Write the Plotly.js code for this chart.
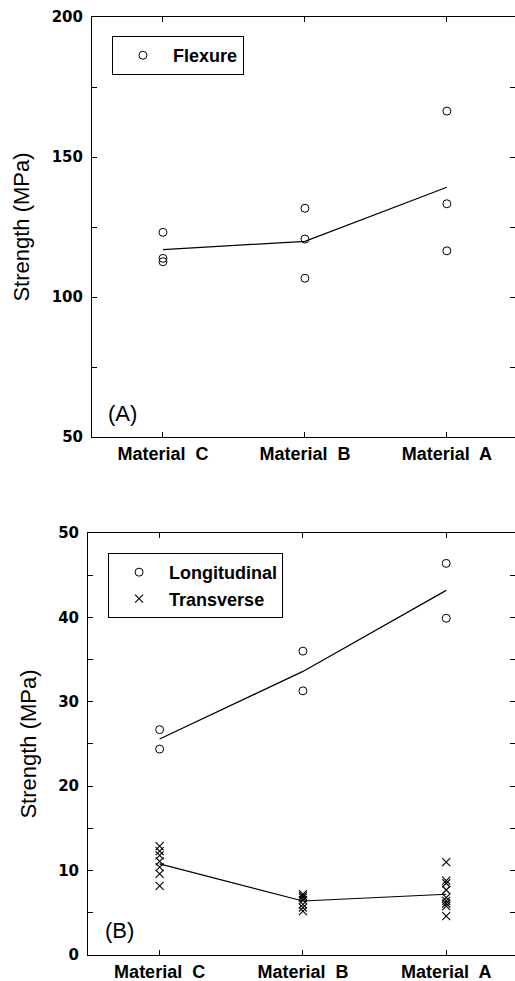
<!DOCTYPE html>
<html>
<head>
<meta charset="utf-8">
<script src="https://cdn.plot.ly/plotly-3.0.1.min.js"></script>
<style>html,body{margin:0;padding:0;background:#fff;}#chart{width:515px;height:981px;}</style>
</head>
<body>
<div id="chart"></div>
<script>
// ---- data ----
const categories = ['Material\u00a0 C', 'Material\u00a0 B', 'Material\u00a0 A'];

// Panel A: flexure strength (MPa)
const flexC = [123.1, 113.8, 112.6];
const flexB = [131.7, 120.7, 106.7];
const flexA = [166.4, 133.3, 116.5];
const flexMean = [116.9, 119.9, 139.2];

// Panel B: longitudinal / transverse strength (MPa)
const longC = [26.7, 24.4];
const longB = [36.0, 31.3];
const longA = [46.4, 39.9];
const longMean = [25.6, 33.6, 43.2];

const transC = [12.9, 12.3, 11.8, 11.1, 10.4, 9.6, 8.2];
const transB = [7.2, 7.0, 6.8, 6.5, 6.0, 5.6, 5.2];
const transA = [11.0, 8.8, 8.5, 7.7, 6.8, 6.4, 6.1, 5.8, 4.6];
const transMean = [10.8, 6.4, 7.2];

const yTicksA = [50, 75, 100, 125, 150, 175, 200];
const yTextA = ['50', '', '100', '', '150', '', '200'];
const yTicksB = [0, 5, 10, 15, 20, 25, 30, 35, 40, 45, 50];
const yTextB = ['0', '', '10', '', '20', '', '30', '', '40', '', '50'];

// ---- helpers ----
function expand(groups) {
  const xs = [], ys = [];
  groups.forEach((vals, i) => vals.forEach(v => { xs.push(categories[i]); ys.push(v); }));
  return {x: xs, y: ys};
}
const FONT = 'Liberation Sans, Arial, sans-serif';
const NUMFONT = 'DejaVu Sans, Liberation Sans, sans-serif';
const circle = {symbol: 'circle-open', size: 8, color: '#000', line: {width: 1, color: '#000'}};
const cross = {symbol: 'x-thin-open', size: 8, color: '#000', line: {width: 1.1, color: '#000'}};

const flexPts = expand([flexC, flexB, flexA]);
const longPts = expand([longC, longB, longA]);
const transPts = expand([transC, transB, transA]);

const traces = [
  {x: categories, y: flexMean, mode: 'lines', line: {color: '#000', width: 1.2}, xaxis: 'x', yaxis: 'y', showlegend: false, hoverinfo: 'skip'},
  {x: flexPts.x, y: flexPts.y, mode: 'markers', name: 'Flexure', marker: circle, xaxis: 'x', yaxis: 'y', legend: 'legend'},
  {x: categories, y: longMean, mode: 'lines', line: {color: '#000', width: 1.2}, xaxis: 'x2', yaxis: 'y2', showlegend: false, hoverinfo: 'skip'},
  {x: categories, y: transMean, mode: 'lines', line: {color: '#000', width: 1.2}, xaxis: 'x2', yaxis: 'y2', showlegend: false, hoverinfo: 'skip'},
  {x: longPts.x, y: longPts.y, mode: 'markers', name: 'Longitudinal', marker: circle, xaxis: 'x2', yaxis: 'y2', legend: 'legend2'},
  {x: transPts.x, y: transPts.y, mode: 'markers', name: 'Transverse', marker: cross, xaxis: 'x2', yaxis: 'y2', legend: 'legend2'}
];

const xCommon = {
  type: 'category', range: [-0.5, 2.48], showline: true, linecolor: '#000', linewidth: 1,
  mirror: 'ticks', ticks: 'inside', ticklen: 5, tickcolor: '#000', showgrid: false, zeroline: false,
  tickfont: {family: FONT, size: 18, color: '#000', weight: 'bold'}, fixedrange: true
};
const yCommon = {
  showline: true, linecolor: '#000', linewidth: 1, mirror: 'ticks', ticks: 'inside', ticklen: 5,
  tickcolor: '#000', showgrid: false, zeroline: false, tickmode: 'array', ticklabelstandoff: 5,
  tickfont: {family: NUMFONT, size: 15, color: '#000', weight: 'bold'},
  title: {text: 'Strength (MPa)', font: {family: FONT, size: 22, color: '#000'}, standoff: 15}
};

const legendCommon = {xanchor: 'left', yanchor: 'top', bordercolor: '#000', borderwidth: 1, bgcolor: '#fff',
  font: {family: FONT, size: 18, color: '#000', weight: 'bold'}, tracegroupgap: 0, itemwidth: 50};

const layout = {
  width: 515, height: 981,
  margin: {l: 88, r: 0, t: 17, b: 26},
  paper_bgcolor: '#fff', plot_bgcolor: '#fff',
  showlegend: true,
  xaxis: Object.assign({}, xCommon, {domain: [0.0094, 1], anchor: 'y'}),
  yaxis: Object.assign({}, yCommon, {domain: [0.5522, 1], range: [50, 200], tickvals: yTicksA, ticktext: yTextA, anchor: 'x'}),
  xaxis2: Object.assign({}, xCommon, {domain: [0, 1], anchor: 'y2'}),
  yaxis2: Object.assign({}, yCommon, {domain: [0, 0.4499], range: [0, 50], tickvals: yTicksB, ticktext: yTextB, anchor: 'x2'}),
  legend: Object.assign({}, legendCommon, {x: 0.056, y: 0.9797}),
  legend2: Object.assign({}, legendCommon, {x: 0.047, y: 0.4286}),
  annotations: [
    {text: '(A)', xref: 'x domain', yref: 'y domain', x: 0.033, y: 0.055, xanchor: 'left', yanchor: 'middle', showarrow: false,
     font: {family: FONT, size: 22, color: '#000'}},
    {text: '(B)', xref: 'x2 domain', yref: 'y2 domain', x: 0.035, y: 0.057, xanchor: 'left', yanchor: 'middle', showarrow: false,
     font: {family: FONT, size: 22, color: '#000'}}
  ]
};

Plotly.newPlot('chart', traces, layout, {displayModeBar: false, staticPlot: true});
</script>
</body>
</html>
